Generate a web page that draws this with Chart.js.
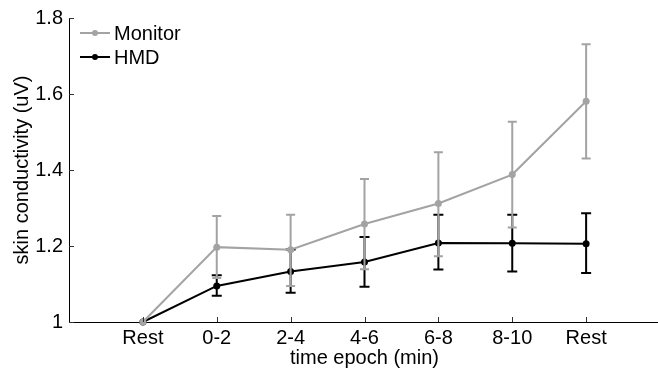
<!DOCTYPE html>
<html>
<head>
<meta charset="utf-8">
<script src="https://cdn.jsdelivr.net/npm/chart.js@4/dist/chart.umd.min.js"></script>
<style>
  html, body { margin: 0; padding: 0; background: #fff; overflow: hidden; }
  canvas { display: block; }
</style>
</head>
<body>
<canvas id="chart" width="664" height="373"></canvas>
<script>
// categorias (posicao 1..7 no eixo x)
const categories = ['Rest', '0-2', '2-4', '4-6', '6-8', '8-10', 'Rest'];

// Monitor: media e limites das barras de erro
const monitorMean  = [1.000, 1.197, 1.190, 1.258, 1.312, 1.388, 1.581];
const monitorUpper = [1.000, 1.279, 1.282, 1.376, 1.447, 1.527, 1.731];
const monitorLower = [1.000, 1.116, 1.095, 1.139, 1.173, 1.249, 1.430];

// HMD
const hmdMean  = [1.000, 1.095, 1.133, 1.158, 1.208, 1.207, 1.206];
const hmdUpper = [1.000, 1.123, 1.191, 1.224, 1.282, 1.282, 1.286];
const hmdLower = [1.000, 1.069, 1.077, 1.093, 1.138, 1.133, 1.129];

const yTicks = [1, 1.2, 1.4, 1.6, 1.8];

const GREY = '#a3a3a3';
const BLACK = '#000000';
const FONT = "'Liberation Sans', Arial, sans-serif";

const toPoints = arr => arr.map((v, i) => ({ x: i + 1, y: v }));
const errors = [
    { upper: monitorUpper, lower: monitorLower, color: GREY, cap: 4.5 },
    { upper: hmdUpper, lower: hmdLower, color: BLACK, cap: 5 }
];

// barras de erro desenhadas depois de cada dataset
const errorBars = {
    id: 'errorBars',
    afterDatasetDraw(chart, args) {
        const e = errors[args.index];
        if (!e) return;
        const { ctx, scales: { x, y } } = chart;
        ctx.save();
        ctx.strokeStyle = e.color;
        ctx.lineWidth = 2;
        e.upper.forEach((up, i) => {
            const lo = e.lower[i];
            if (up === lo) return;
            const px = x.getPixelForValue(i + 1);
            const yu = y.getPixelForValue(up);
            const yl = y.getPixelForValue(lo);
            ctx.beginPath();
            ctx.moveTo(px, yu); ctx.lineTo(px, yl);
            ctx.moveTo(px - e.cap, yu); ctx.lineTo(px + e.cap, yu);
            ctx.moveTo(px - e.cap, yl); ctx.lineTo(px + e.cap, yl);
            ctx.stroke();
        });
        ctx.restore();
    }
};

// ticks para dentro + legenda
const extras = {
    id: 'extras',
    afterDraw(chart) {
        const { ctx, chartArea: a, scales: { x, y } } = chart;
        ctx.save();
        ctx.strokeStyle = '#333';
        ctx.lineWidth = 1;
        ctx.beginPath();
        yTicks.forEach(v => {
            const py = Math.round(y.getPixelForValue(v)) + 0.5;
            ctx.moveTo(a.left, py); ctx.lineTo(a.left + 5, py);
        });
        categories.forEach((c, i) => {
            const px = Math.round(x.getPixelForValue(i + 1)) + 0.5;
            ctx.moveTo(px, a.bottom); ctx.lineTo(px, a.bottom - 5);
        });
        ctx.stroke();

        // legenda
        const items = [['Monitor', GREY, 33], ['HMD', BLACK, 57]];
        ctx.font = '20px ' + FONT;
        ctx.textBaseline = 'middle';
        items.forEach(([label, color, ly]) => {
            ctx.strokeStyle = color;
            ctx.lineWidth = 2;
            ctx.beginPath();
            ctx.moveTo(80, ly); ctx.lineTo(110, ly);
            ctx.stroke();
            ctx.fillStyle = color;
            ctx.beginPath();
            ctx.arc(95, ly, 3, 0, Math.PI * 2);
            ctx.fill();
            ctx.fillStyle = '#000';
            ctx.fillText(label, 114, ly + 1);
        });
        ctx.restore();
    }
};

new Chart(document.getElementById('chart'), {
    type: 'scatter',
    data: {
        datasets: [{
            label: 'Monitor',
            data: toPoints(monitorMean),
            showLine: true,
            borderColor: GREY,
            backgroundColor: GREY,
            borderWidth: 2,
            pointRadius: 3.5,
            pointBorderWidth: 0,
            clip: false
        }, {
            label: 'HMD',
            data: toPoints(hmdMean),
            showLine: true,
            borderColor: BLACK,
            backgroundColor: BLACK,
            borderWidth: 2,
            pointRadius: 3.5,
            pointBorderWidth: 0,
            clip: false
        }]
    },
    options: {
        responsive: false,
        animation: false,
        devicePixelRatio: 1,
        layout: { padding: { top: 15, right: 0, left: 0, bottom: 0 } },
        plugins: { legend: { display: false }, tooltip: { enabled: false } },
        scales: {
            x: {
                type: 'linear',
                min: 0,
                max: 8,
                afterFit: s => { s.height = 51; },
                afterBuildTicks: s => { s.ticks = categories.map((c, i) => ({ value: i + 1 })); },
                grid: { display: false, drawTicks: false },
                border: { color: '#000', width: 1 },
                ticks: {
                    padding: 4,
                    color: '#000',
                    font: { family: FONT, size: 20 },
                    autoSkip: false,
                    maxRotation: 0,
                    callback: v => categories[v - 1]
                },
                title: {
                    display: true,
                    text: 'time epoch (min)',
                    color: '#000',
                    font: { family: FONT, size: 20 },
                    padding: { top: 0, bottom: 3 }
                }
            },
            y: {
                min: 1,
                max: 1.8,
                afterFit: s => { s.width = 69; },
                afterBuildTicks: s => { s.ticks = yTicks.map(v => ({ value: v })); },
                grid: { display: false, drawTicks: false },
                border: { color: '#000', width: 1 },
                ticks: {
                    padding: 6,
                    color: '#000',
                    font: { family: FONT, size: 20 },
                    callback: v => String(+v.toFixed(1))
                },
                title: {
                    display: true,
                    text: 'skin conductivity (uV)',
                    color: '#000',
                    font: { family: FONT, size: 20 },
                    padding: { top: 10, bottom: 0 }
                }
            }
        }
    },
    plugins: [errorBars, extras]
});
</script>
</body>
</html>
